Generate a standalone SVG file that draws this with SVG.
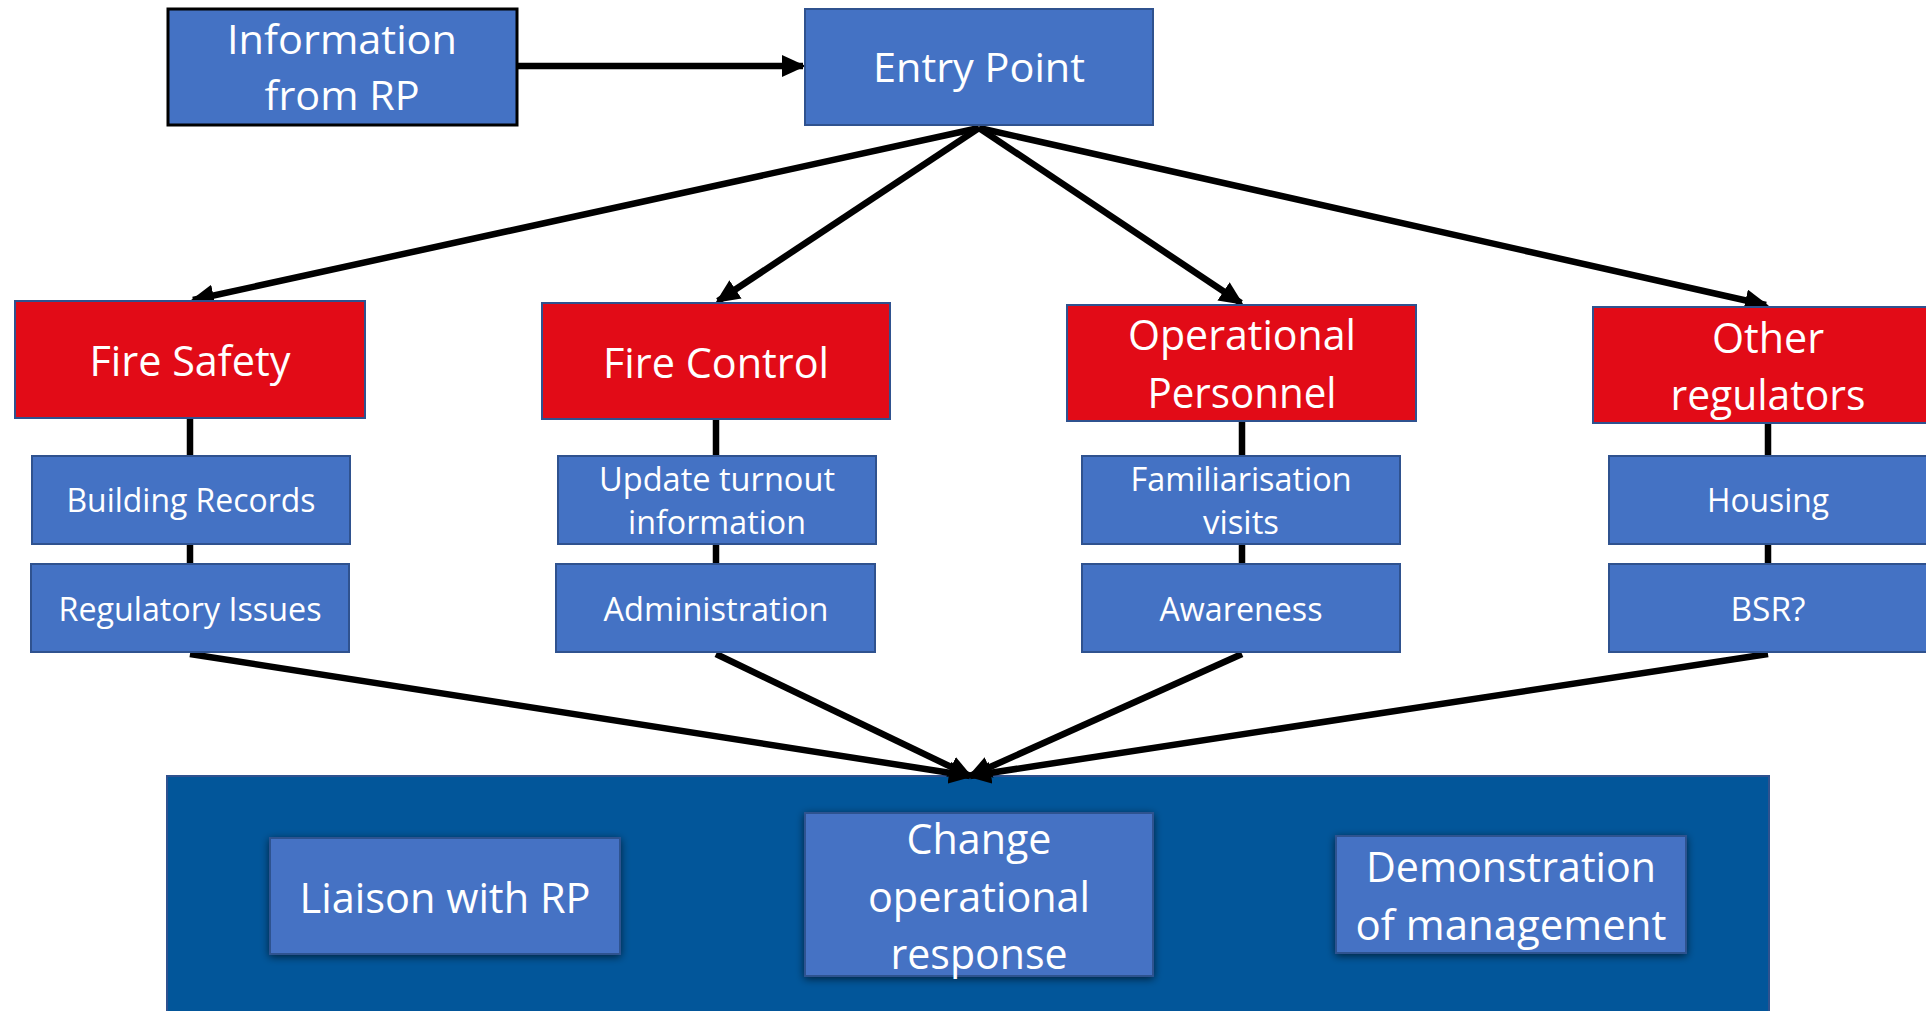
<svg xmlns="http://www.w3.org/2000/svg" width="1926" height="1011" viewBox="0 0 1926 1011">
<style>
.blue{fill:#4472C4;stroke:#2F528F;stroke-width:2}
.red{fill:#E20B17;stroke:#2F528F;stroke-width:2}
.t{font-family:"Open Sans","Liberation Sans",sans-serif;fill:#fff;text-anchor:middle}
.c{stroke:#000;stroke-width:6.5;fill:none}
</style>
<defs>
<marker id="ah" markerUnits="userSpaceOnUse" markerWidth="24" markerHeight="22" refX="21" refY="11" orient="auto">
<path d="M0,0 L24,11 L0,22 Z" fill="#000"/>
</marker>
<filter id="sh" x="-10%" y="-10%" width="120%" height="120%">
<feGaussianBlur in="SourceAlpha" stdDeviation="4"/>
<feOffset dx="0" dy="2"/>
<feComponentTransfer><feFuncA type="linear" slope="0.6"/></feComponentTransfer>
<feMerge><feMergeNode/><feMergeNode in="SourceGraphic"/></feMerge>
</filter>
</defs>
<rect width="1926" height="1011" fill="#fff"/>

<g id="outcomes-panel">
<rect x="167" y="776" width="1602" height="240" fill="#02569A" stroke="#2F528F" stroke-width="2"/>
</g>

<g id="connectors">
<line class="c" x1="517" y1="66" x2="803" y2="66" marker-end="url(#ah)"/>
<line class="c" x1="979" y1="128" x2="193" y2="300" marker-end="url(#ah)"/>
<line class="c" x1="979" y1="128" x2="718" y2="301" marker-end="url(#ah)"/>
<line class="c" x1="979" y1="128" x2="1241" y2="303" marker-end="url(#ah)"/>
<line class="c" x1="979" y1="128" x2="1766" y2="305" marker-end="url(#ah)"/>
<line class="c" x1="190" y1="418" x2="190" y2="564"/>
<line class="c" x1="716" y1="419" x2="716" y2="564"/>
<line class="c" x1="1242" y1="421" x2="1242" y2="564"/>
<line class="c" x1="1768" y1="423" x2="1768" y2="564"/>
<line class="c" x1="190" y1="654" x2="970" y2="776" marker-end="url(#ah)"/>
<line class="c" x1="716" y1="654" x2="970" y2="776" marker-end="url(#ah)"/>
<line class="c" x1="1242" y1="654" x2="970" y2="776" marker-end="url(#ah)"/>
<line class="c" x1="1768" y1="654" x2="970" y2="776" marker-end="url(#ah)"/>
</g>

<g id="info-from-rp">
<rect x="168" y="9" width="349" height="116" fill="#4472C4" stroke="#000" stroke-width="3"/>
<text class="t" x="342" y="54" font-size="40" textLength="230" lengthAdjust="spacingAndGlyphs">Information</text>
<text class="t" x="342" y="110" font-size="40" textLength="155" lengthAdjust="spacingAndGlyphs">from RP</text>
</g>

<g id="entry-point">
<rect class="blue" x="805" y="9" width="348" height="116"/>
<text class="t" x="979" y="82" font-size="40" textLength="212" lengthAdjust="spacingAndGlyphs">Entry Point</text>
</g>

<g id="fire-safety">
<rect class="red" x="15" y="301" width="350" height="117"/>
<text class="t" x="190" y="376" font-size="42" textLength="201" lengthAdjust="spacingAndGlyphs">Fire Safety</text>
</g>
<g id="fire-control">
<rect class="red" x="542" y="303" width="348" height="116"/>
<text class="t" x="716" y="378" font-size="42" textLength="226" lengthAdjust="spacingAndGlyphs">Fire Control</text>
</g>
<g id="operational-personnel">
<rect class="red" x="1067" y="305" width="349" height="116"/>
<text class="t" x="1242" y="350" font-size="42" textLength="228" lengthAdjust="spacingAndGlyphs">Operational</text>
<text class="t" x="1242" y="408" font-size="42" textLength="189" lengthAdjust="spacingAndGlyphs">Personnel</text>
</g>
<g id="other-regulators">
<rect class="red" x="1593" y="307" width="345" height="116"/>
<text class="t" x="1768" y="353" font-size="42" textLength="112" lengthAdjust="spacingAndGlyphs">Other</text>
<text class="t" x="1768" y="410" font-size="42" textLength="195" lengthAdjust="spacingAndGlyphs">regulators</text>
</g>

<g id="building-records">
<rect class="blue" x="32" y="456" width="318" height="88"/>
<text class="t" x="191" y="512" font-size="32" textLength="249" lengthAdjust="spacingAndGlyphs">Building Records</text>
</g>
<g id="regulatory-issues">
<rect class="blue" x="31" y="564" width="318" height="88"/>
<text class="t" x="190" y="621" font-size="32" textLength="263" lengthAdjust="spacingAndGlyphs">Regulatory Issues</text>
</g>
<g id="update-turnout">
<rect class="blue" x="558" y="456" width="318" height="88"/>
<text class="t" x="717" y="491" font-size="32" textLength="236" lengthAdjust="spacingAndGlyphs">Update turnout</text>
<text class="t" x="717" y="534" font-size="32" textLength="178" lengthAdjust="spacingAndGlyphs">information</text>
</g>
<g id="administration">
<rect class="blue" x="556" y="564" width="319" height="88"/>
<text class="t" x="716" y="621" font-size="32" textLength="225" lengthAdjust="spacingAndGlyphs">Administration</text>
</g>
<g id="familiarisation-visits">
<rect class="blue" x="1082" y="456" width="318" height="88"/>
<text class="t" x="1241" y="491" font-size="32" textLength="221" lengthAdjust="spacingAndGlyphs">Familiarisation</text>
<text class="t" x="1241" y="534" font-size="32" textLength="76" lengthAdjust="spacingAndGlyphs">visits</text>
</g>
<g id="awareness">
<rect class="blue" x="1082" y="564" width="318" height="88"/>
<text class="t" x="1241" y="621" font-size="32" textLength="163" lengthAdjust="spacingAndGlyphs">Awareness</text>
</g>
<g id="housing">
<rect class="blue" x="1609" y="456" width="330" height="88"/>
<text class="t" x="1768" y="512" font-size="32" textLength="122" lengthAdjust="spacingAndGlyphs">Housing</text>
</g>
<g id="bsr">
<rect class="blue" x="1609" y="564" width="330" height="88"/>
<text class="t" x="1768" y="621" font-size="32" textLength="75" lengthAdjust="spacingAndGlyphs">BSR?</text>
</g>

<g id="liaison-with-rp">
<rect class="blue" x="270" y="838" width="350" height="116" filter="url(#sh)"/>
<text class="t" x="445" y="913" font-size="42" textLength="291" lengthAdjust="spacingAndGlyphs">Liaison with RP</text>
</g>
<g id="change-operational-response">
<rect class="blue" x="805" y="813" width="348" height="163" filter="url(#sh)"/>
<text class="t" x="979" y="854" font-size="42" textLength="145" lengthAdjust="spacingAndGlyphs">Change</text>
<text class="t" x="979" y="912" font-size="42" textLength="222" lengthAdjust="spacingAndGlyphs">operational</text>
<text class="t" x="979" y="969" font-size="42" textLength="177" lengthAdjust="spacingAndGlyphs">response</text>
</g>
<g id="demonstration-of-management">
<rect class="blue" x="1336" y="836" width="350" height="117" filter="url(#sh)"/>
<text class="t" x="1511" y="882" font-size="42" textLength="290" lengthAdjust="spacingAndGlyphs">Demonstration</text>
<text class="t" x="1511" y="940" font-size="42" textLength="311" lengthAdjust="spacingAndGlyphs">of management</text>
</g>
</svg>
